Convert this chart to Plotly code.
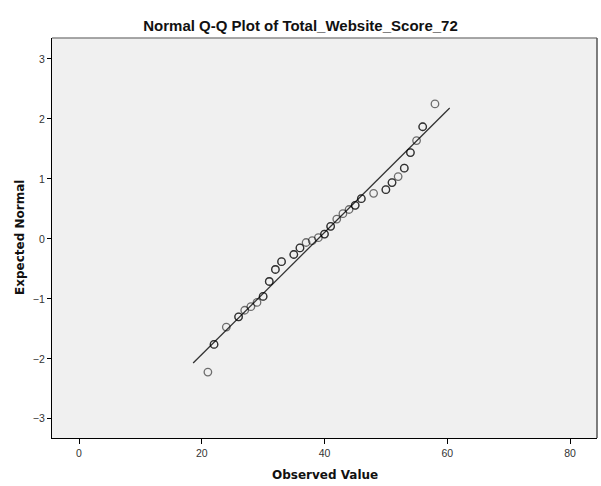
import plotly.graph_objects as go

# Observed values (x) and expected normal quantiles (y), with number of cases at each value
observed = [21, 22, 24, 26, 27, 28, 29, 30, 31, 32, 33, 35, 36, 37, 38, 39, 40, 41, 42, 43,
            44, 45, 46, 48, 50, 51, 52, 53, 54, 55, 56, 58]
expected = [-2.22, -1.76, -1.47, -1.30, -1.19, -1.13, -1.06, -0.96, -0.71, -0.51, -0.38, -0.26,
            -0.15, -0.06, -0.03, 0.02, 0.08, 0.21, 0.33, 0.42, 0.49, 0.56, 0.67, 0.76, 0.82,
            0.94, 1.04, 1.18, 1.44, 1.64, 1.87, 2.25]
counts = [1, 2, 1, 2, 1, 1, 1, 2, 2, 2, 2, 2, 2, 1, 1, 1, 2, 2, 1, 1,
          1, 2, 2, 1, 2, 2, 1, 2, 2, 1, 2, 1]

# Reference line: normal with this mean / sd, drawn over this x span
line_mean = 38.95
line_sd = 9.83
line_x = [18.6, 60.4]
line_y = [(v - line_mean) / line_sd for v in line_x]

x_ticks = [0, 20, 40, 60, 80]
y_ticks = [-3, -2, -1, 0, 1, 2, 3]

title_text = "Normal Q-Q Plot of Total_Website_Score_72"
x_title = "Observed Value"
y_title = "Expected Normal"

px, py = [], []
for xv, yv, c in zip(observed, expected, counts):
    for _ in range(c):
        px.append(xv)
        py.append(yv)

ARIAL = "Liberation Sans, Arial, sans-serif"
DEJAVU = "DejaVu Sans, Verdana, sans-serif"

W, H = 601, 486
fig = go.Figure()
fig.add_trace(go.Scatter(
    x=line_x, y=line_y, mode="lines",
    line=dict(color="#333333", width=1.3),
    hoverinfo="skip", showlegend=False))
fig.add_trace(go.Scatter(
    x=px, y=py, mode="markers",
    marker=dict(symbol="circle-open", size=7.5,
                color="rgba(0,0,0,0.55)",
                line=dict(color="rgba(0,0,0,0.55)", width=1.3)),
    showlegend=False))

fig.update_layout(
    width=W, height=H,
    margin=dict(l=52, r=4, t=38, b=48),
    paper_bgcolor="white",
    plot_bgcolor="#F0F0F0",
    font=dict(family=ARIAL, color="#222222"),
    title=dict(text="<b>" + title_text + "</b>",
               x=0.5, xanchor="center", y=1 - 25.5 / H, yanchor="middle",
               font=dict(size=15, color="#111111", family=ARIAL)),
    xaxis=dict(range=[-4.4, 84.4], tickvals=x_ticks, showgrid=False, zeroline=False,
               automargin=False,
               showline=True, linecolor="black", linewidth=1.2,
               ticks="outside", ticklen=5, tickcolor="black", tickwidth=1,
               tickfont=dict(size=10.5, color="#333333", family=ARIAL)),
    yaxis=dict(range=[-3.32, 3.35], tickvals=y_ticks, showgrid=False, zeroline=False,
               automargin=False,
               showline=True, linecolor="black", linewidth=1.2,
               ticks="outside", ticklen=4, tickcolor="black", tickwidth=1,
               tickfont=dict(size=10.5, color="#333333", family=ARIAL)),
    shapes=[dict(type="line", xref="paper", yref="paper", x0=0, x1=1, y0=1, y1=1,
                 line=dict(color="#8a8a8a", width=1.5)),
            dict(type="line", xref="paper", yref="paper", x0=1, x1=1, y0=0, y1=1,
                 line=dict(color="#555555", width=1.5))],
    annotations=[
        dict(text="<b>" + x_title + "</b>", xref="paper", yref="paper",
             x=0.5, y=-(475 - 438) / (H - 38 - 48), xanchor="center", yanchor="middle",
             showarrow=False, font=dict(size=12, color="#111111", family=DEJAVU)),
        dict(text="<b>" + y_title + "</b>", xref="paper", yref="paper",
             x=-(52 - 20) / (W - 52 - 4), y=0.5, xanchor="center", yanchor="middle",
             textangle=-90, showarrow=False,
             font=dict(size=12, color="#111111", family=DEJAVU)),
    ],
)

fig.write_html("out.html",
               config={"displayModeBar": False},
               post_script="document.body.style.margin='0';document.body.style.overflow='hidden';")
